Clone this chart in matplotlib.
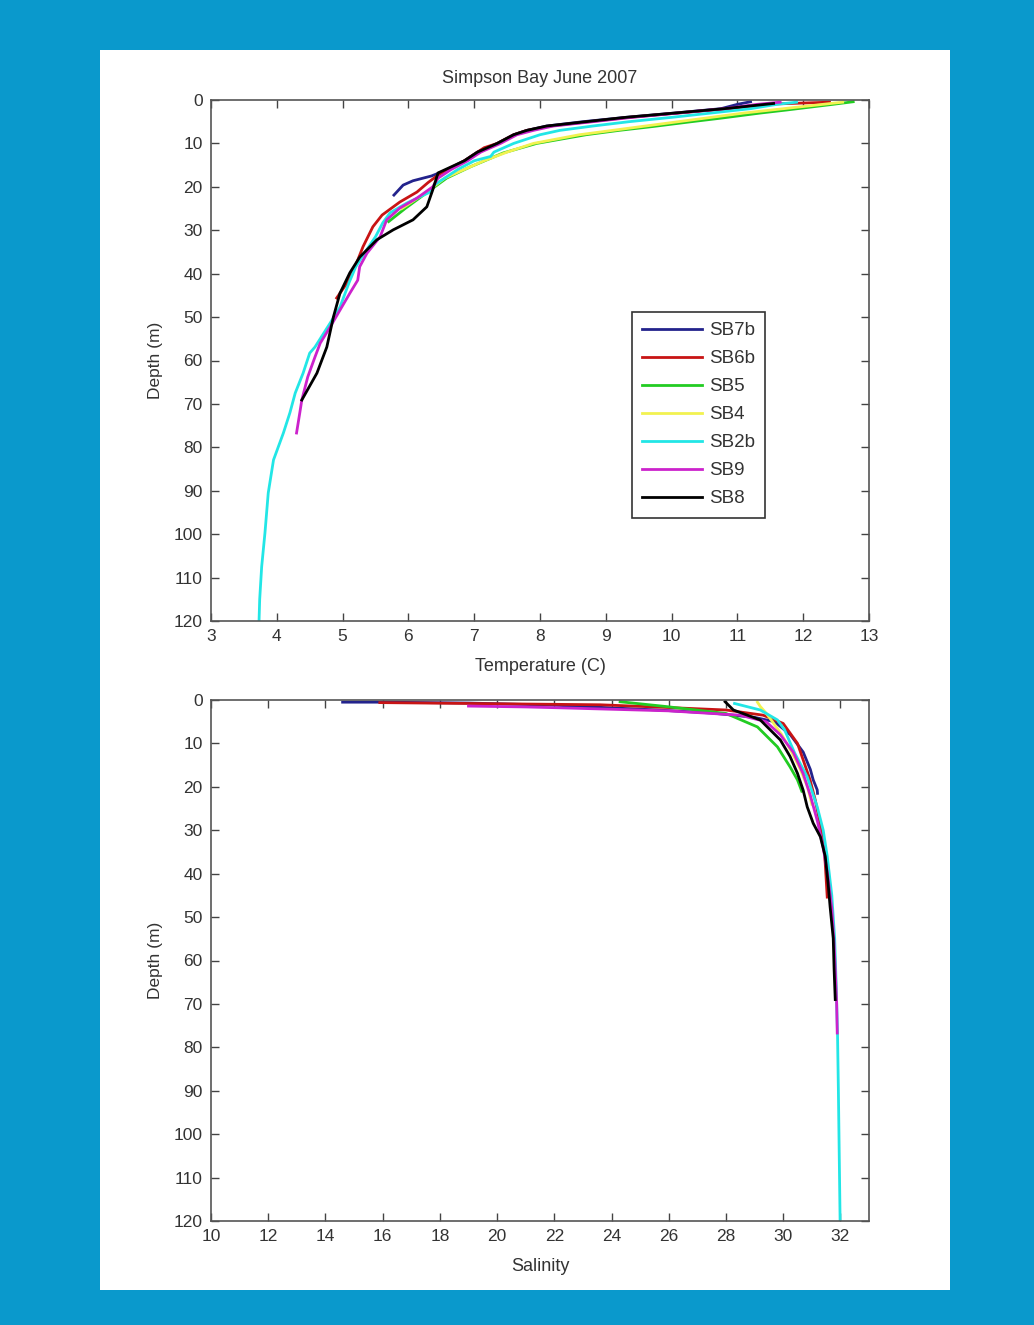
import matplotlib.pyplot as plt
from matplotlib.patches import Rectangle

names = ['SB7b', 'SB6b', 'SB5', 'SB4', 'SB2b', 'SB9', 'SB8']
colors = ['#23238c', '#c81414', '#22cc22', '#f2f250', '#22e6e6', '#cc22cc', '#000000']

# temperature profiles (depth m, temp C)
t_depth = {
    'SB7b': [0.4, 1, 2, 3, 4, 5, 6, 7, 8, 10, 12, 14, 16, 17.5, 18.6, 19.6, 21.9],
    'SB6b': [0.5, 1, 2, 3, 4, 5, 6, 7, 8, 10, 11, 14, 16, 17.3, 19, 21.2, 23.5, 26.5,
             29.2, 33.8, 38.4, 42.1, 45.6],
    'SB5': [0.4, 1, 2.3, 3, 4.2, 5, 6.1, 7, 8, 10, 12.2, 15.4, 18, 20, 22, 25, 28],
    'SB4': [0.5, 1, 2, 3, 4, 5, 6, 7, 8, 10, 12, 14, 16, 18, 20, 22, 25],
    'SB2b': [0.5, 1, 2, 3, 4, 5, 6, 7, 8, 10, 12, 13, 14, 16, 18, 19.5, 21.2, 23.7, 26,
             28.3, 31.5, 35.3, 38.4, 42, 47.7, 51.4, 56.9, 58.3, 62.9, 67.5, 72, 76.7,
             82.9, 90.5, 99.7, 107.5, 115, 120],
    'SB9': [0.5, 1, 2, 3, 4, 5, 6, 7, 8, 10, 12, 14, 16, 18, 20, 22.6, 24.9, 27.6, 31.5,
            35.3, 38.4, 41.5, 44.5, 48.4, 52.3, 56, 59.2, 63.8, 69.1, 72, 76.7],
    'SB8': [0.8, 2, 3, 4, 5, 6, 7, 8, 10, 12, 14, 16.8, 20.7, 24.6, 27.6, 29.9, 32.2,
            36.2, 39.8, 44.5, 50, 56.9, 62.9, 69.1],
}
t_vals = {
    'SB7b': [11.2, 11.0, 10.75, 10.05, 9.3, 8.65, 8.1, 7.8, 7.6, 7.35, 7.05, 6.85,
             6.6, 6.35, 6.07, 5.92, 5.78],
    'SB6b': [12.4, 11.4, 10.85, 10.1, 9.35, 8.75, 8.15, 7.8, 7.6, 7.35, 7.15, 6.85,
             6.6, 6.45, 6.3, 6.13, 5.87, 5.6, 5.46, 5.31, 5.19, 5.07, 4.91],
    'SB5': [12.76, 12.45, 11.75, 11.35, 10.74, 10.3, 9.72, 9.2, 8.7, 7.95, 7.44, 6.94,
            6.58, 6.4, 6.22, 5.95, 5.7],
    'SB4': [12.6, 12.3, 11.7, 11.1, 10.6, 10.1, 9.6, 9.1, 8.6, 7.9, 7.5, 7.15, 6.85,
            6.55, 6.38, 6.2, 5.9],
    'SB2b': [11.9, 11.6, 11.2, 10.6, 10.0, 9.35, 8.8, 8.3, 8.0, 7.6, 7.3, 7.25, 7.0,
             6.75, 6.55, 6.4, 6.33, 5.98, 5.72, 5.61, 5.5, 5.33, 5.2, 5.1, 4.96, 4.81,
             4.58, 4.5, 4.4, 4.28, 4.2, 4.1, 3.95, 3.87, 3.82, 3.77, 3.74, 3.73],
    'SB9': [11.65, 11.3, 10.8, 10.1, 9.4, 8.8, 8.2, 7.9, 7.65, 7.4, 7.1, 6.9, 6.65,
            6.45, 6.37, 6.13, 5.87, 5.67, 5.57, 5.37, 5.26, 5.23, 5.11, 4.96, 4.81,
            4.66, 4.58, 4.47, 4.38, 4.35, 4.3],
    'SB8': [11.55, 10.8, 10.05, 9.3, 8.7, 8.1, 7.8, 7.6, 7.35, 7.05, 6.85, 6.45,
            6.37, 6.28, 6.07, 5.77, 5.52, 5.26, 5.11, 4.96, 4.86, 4.76, 4.61, 4.38],
}

# salinity profiles (depth m, salinity)
s_depth = {
    'SB7b': [0.5, 0.5, 0.7, 1.2, 2.3, 3.0, 4, 5, 8, 12, 16, 18.4, 20.7, 21.5],
    'SB6b': [0.6, 0.8, 1.1, 1.6, 2.3, 3.5, 5.4, 10, 18.4, 23, 32, 37.6, 45.4],
    'SB5': [0.4, 1.5, 3.1, 6.2, 10.8, 15.4, 18.4, 21],
    'SB4': [0.5, 1.5, 3, 5.3, 8, 12, 16, 20, 24],
    'SB2b': [0.8, 2.3, 4.6, 6.9, 12.2, 17.7, 24.6, 30, 36, 45, 55, 65, 77, 90, 100, 110, 120],
    'SB9': [1.4, 1.6, 1.8, 2.5, 3.5, 5, 8, 12, 17, 22, 28, 34, 40, 48, 56, 65, 70, 76.7],
    'SB8': [0.4, 2.3, 4.6, 9.2, 13, 16.9, 20.8, 24.6, 28.4, 31.5, 36, 42.2, 47.6,
            54.9, 62, 69],
}
s_vals = {
    'SB7b': [14.6, 16.0, 19.0, 22.0, 25.6, 27.5, 29.0, 29.7, 30.25, 30.7, 30.95, 31.05,
             31.19, 31.2],
    'SB6b': [15.9, 19, 23.6, 25.5, 28.0, 29.3, 30.0, 30.5, 30.94, 31.12, 31.4, 31.47,
             31.54],
    'SB5': [24.3, 25.9, 28.0, 29.1, 29.8, 30.24, 30.5, 30.65],
    'SB4': [29.1, 29.2, 29.4, 29.66, 29.95, 30.3, 30.6, 30.85, 31.0],
    'SB2b': [28.3, 29.2, 29.8, 30.05, 30.4, 30.84, 31.19, 31.4, 31.54, 31.7, 31.8,
             31.85, 31.9, 31.93, 31.95, 31.97, 31.99],
    'SB9': [19.0, 21, 22.2, 26, 28.5, 29.4, 29.9, 30.35, 30.7, 30.95, 31.2, 31.4,
            31.55, 31.7, 31.78, 31.84, 31.87, 31.89],
    'SB8': [27.97, 28.26, 29.2, 29.9, 30.24, 30.5, 30.7, 30.84, 31.05, 31.3,
            31.47, 31.57, 31.64, 31.75, 31.78, 31.82],
}

txt = '#333333'
plt.rcParams['font.family'] = ['Liberation Sans', 'DejaVu Sans']

fig = plt.figure(figsize=(10.34, 13.25), dpi=100)
fig.patch.set_facecolor('#0a99cc')
panel = Rectangle((100 / 1034, 1 - 1290 / 1325), 850 / 1034, 1240 / 1325,
                  transform=fig.transFigure, facecolor='white',
                  edgecolor='none', zorder=-10)
fig.add_artist(panel)

ax1 = fig.add_axes([211 / 1034, 1 - 621 / 1325, 658 / 1034, 521 / 1325])
ax2 = fig.add_axes([211 / 1034, 1 - 1221 / 1325, 658 / 1034, 521 / 1325])

for n, c in zip(names, colors):
    ax1.plot(t_vals[n], t_depth[n], color=c, lw=2.0, label=n)
    ax2.plot(s_vals[n], s_depth[n], color=c, lw=2.0, label=n)

ax1.set_xlim(3, 13)
ax1.set_xticks(range(3, 14))
ax2.set_xlim(10, 33)
ax2.set_xticks(range(10, 33, 2))

for ax in (ax1, ax2):
    ax.set_ylim(120, 0)
    ax.set_yticks(range(0, 121, 10))
    ax.tick_params(direction='in', top=True, right=True, length=6, width=1,
                   labelsize=12.5, colors='#444444', labelcolor=txt, pad=6)
    for s in ax.spines.values():
        s.set_color('#555555')
        s.set_linewidth(1.2)
    ax.set_ylabel('Depth (m)', fontsize=12.5, color=txt, labelpad=8)
    ax.set_facecolor('white')

ax1.set_title('Simpson Bay June 2007', fontsize=13, color=txt, pad=12)
ax1.set_xlabel('Temperature (C)', fontsize=13, color=txt, labelpad=10)
ax2.set_xlabel('Salinity', fontsize=13, color=txt, labelpad=10)

leg = ax1.legend(loc='upper left', bbox_to_anchor=(0.64, 0.593), fontsize=13.5,
                 handlelength=3.2, labelspacing=0.58, fancybox=False, framealpha=1,
                 borderpad=0.55, handletextpad=0.35, borderaxespad=0)
leg.get_frame().set_edgecolor('#333333')
leg.get_frame().set_linewidth(1.2)
for t in leg.get_texts():
    t.set_color(txt)

fig.savefig('out.png', dpi=100, facecolor=fig.get_facecolor())
